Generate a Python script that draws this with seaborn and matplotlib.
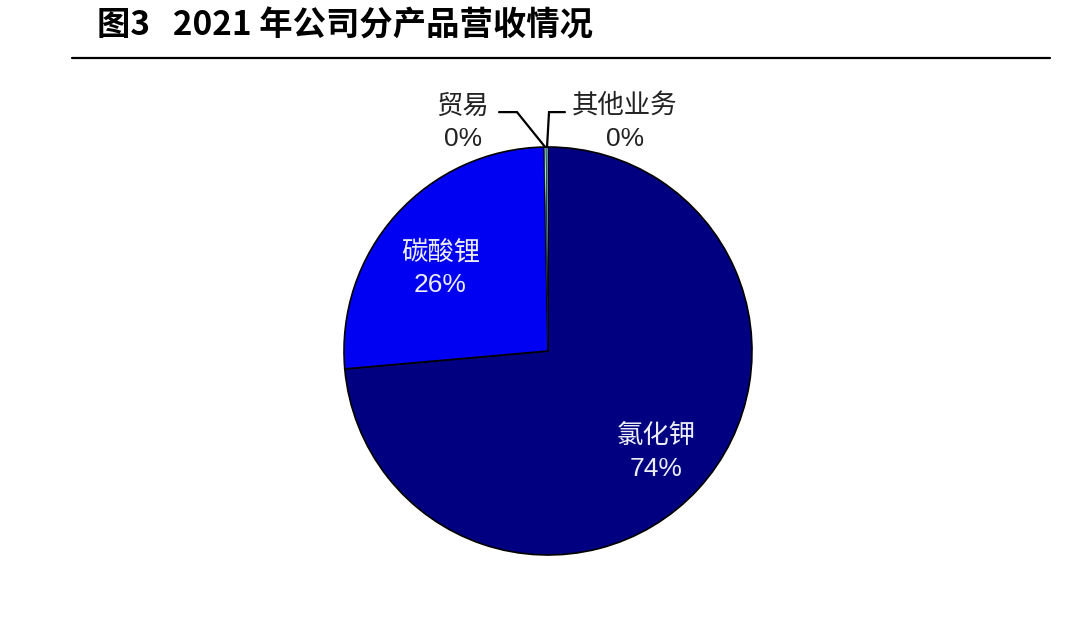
import numpy as np
import seaborn as sns
import matplotlib.pyplot as plt
from matplotlib.lines import Line2D

# Data
products = ["氯化钾", "碳酸锂", "贸易", "其他业务"]
shares = [73.6, 26.1, 0.15, 0.15]
pct_labels = ["74%", "26%", "0%", "0%"]
colors = ["#000080", "#0000F2", "#A8E0E8", "#6FD0DC"]

sns.set_theme(style="white")
plt.rcParams["font.family"] = ["Noto Sans CJK SC", "DejaVu Sans"]
label_family = ["Liberation Sans", "Noto Sans CJK SC"]

fig = plt.figure(figsize=(10.8, 6.34), dpi=100)
ax = fig.add_axes([344 / 1080, 79 / 634, 408 / 1080, 408 / 634])

wedges, _ = ax.pie(
    shares,
    colors=colors,
    startangle=90,
    counterclock=False,
    radius=1.0,
    wedgeprops=dict(edgecolor="black", linewidth=1.2),
)
for w in wedges[2:]:
    w.set_linewidth(0.4)
ax.set_xlim(-1.0, 1.0)
ax.set_ylim(-1.0, 1.0)
ax.set_aspect("equal")
ax.axis("off")

# Labels inside the two big slices
label_r = [0.72, 0.67]
label_shift = [0.0, 3.8]
for i in range(2):
    w = wedges[i]
    mid = np.deg2rad((w.theta1 + w.theta2) / 2 + label_shift[i])
    ax.text(label_r[i] * np.cos(mid), label_r[i] * np.sin(mid) - 0.01,
            products[i] + "\n" + pct_labels[i],
            ha="center", va="center", color="#EDEDF5", fontsize=19,
            linespacing=1.47, family=label_family)

# Labels for tiny slices with leader lines
text_pos = [(-0.417, 1.12), (0.377, 1.12)]
elbows = [((-0.240, 1.171), (-0.152, 1.171)), ((0.083, 1.171), (0.005, 1.171))]
for j, i in enumerate([2, 3]):
    w = wedges[i]
    mid = np.deg2rad((w.theta1 + w.theta2) / 2)
    ex, ey = np.cos(mid), np.sin(mid)
    (x0, y0), (x1, y1) = elbows[j]
    ax.plot([x0, x1, ex], [y0, y1, ey], color="black", linewidth=1.6,
            clip_on=False, solid_joinstyle="miter")
    ax.text(text_pos[j][0], text_pos[j][1],
            products[i] + "\n" + pct_labels[i],
            ha="center", va="center", color="#222222", fontsize=19,
            linespacing=1.43, family=label_family)

# Title and rule
fig.text(97 / 1080, 1 - 26 / 634, "图3   2021 年公司分产品营收情况",
         ha="left", va="center", fontsize=24, fontweight="bold", color="black")
fig.add_artist(Line2D([72 / 1080, 1050 / 1080], [1 - 58 / 634, 1 - 58 / 634],
                      color="black", linewidth=1.6, transform=fig.transFigure))

fig.savefig("out.png", dpi=100, facecolor="white")
